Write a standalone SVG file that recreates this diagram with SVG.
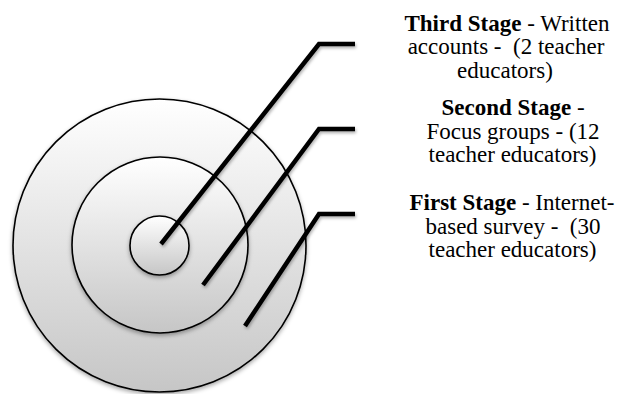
<svg xmlns="http://www.w3.org/2000/svg" width="622" height="394" viewBox="0 0 622 394">
<style>
.ring{fill:url(#g);stroke:#000;stroke-width:1.6;filter:url(#sh)}
.ld{fill:none;stroke:#000;stroke-width:4.5;stroke-linejoin:miter;filter:url(#sh2)}
.t{font-size:23px;fill:#000;text-anchor:middle;white-space:pre}
.b{font-weight:bold}
</style>
<defs>
<linearGradient id="g" x1="0" y1="0" x2="0" y2="1">
<stop offset="0" stop-color="#ffffff"/>
<stop offset="1" stop-color="#c6c6c6"/>
</linearGradient>
<filter id="sh" x="-20%" y="-20%" width="140%" height="140%">
<feDropShadow dx="0" dy="2" stdDeviation="2" flood-color="#000" flood-opacity="0.35"/>
</filter>
<filter id="sh2" x="-20%" y="-20%" width="140%" height="140%">
<feDropShadow dx="1" dy="2" stdDeviation="1.5" flood-color="#000" flood-opacity="0.3"/>
</filter>
</defs>
<g id="circle-first"><circle class="ring" cx="159.5" cy="245.5" r="146.5"/></g>
<g id="circle-second"><circle class="ring" cx="160" cy="245" r="88"/></g>
<g id="circle-third"><circle class="ring" cx="159.5" cy="245.5" r="29.5"/></g>
<g id="connectors">
<polyline class="ld" points="161,244 319,44 355,44"/>
<polyline class="ld" points="203,285 319,129 355,129"/>
<polyline class="ld" points="245,326 319,214 355,214"/>
</g>
<g id="label-third">
<text class="t" font-family="Liberation Serif" x="507" y="30.5"><tspan class="b">Third Stage</tspan> - Written</text>
<text class="t" font-family="Liberation Serif" x="506" y="54">accounts -  (2 teacher</text>
<text class="t" font-family="Liberation Serif" x="505" y="77.5">educators)</text>
</g>
<g id="label-second">
<text class="t" font-family="Liberation Serif" x="513" y="115"><tspan class="b">Second Stage</tspan> -</text>
<text class="t" font-family="Liberation Serif" x="513" y="138.5">Focus groups - (12</text>
<text class="t" font-family="Liberation Serif" x="512.5" y="162">teacher educators)</text>
</g>
<g id="label-first">
<text class="t" font-family="Liberation Serif" x="512" y="210"><tspan class="b">First Stage</tspan> - Internet-</text>
<text class="t" font-family="Liberation Serif" x="513" y="233.5">based survey -  (30</text>
<text class="t" font-family="Liberation Serif" x="512.5" y="257">teacher educators)</text>
</g>
</svg>
